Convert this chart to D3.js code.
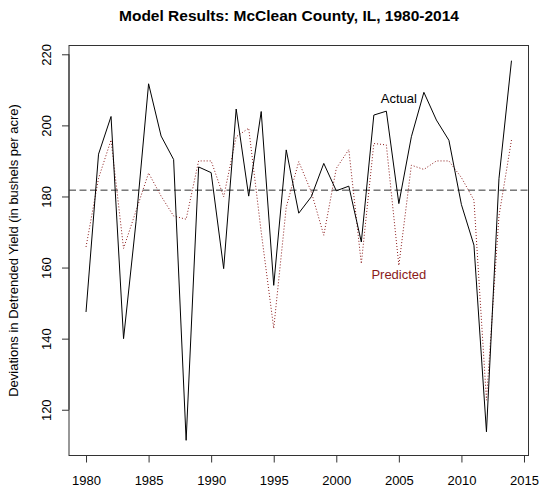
<!DOCTYPE html>
<html>
<head>
<meta charset="utf-8">
<script src="https://cdn.jsdelivr.net/npm/d3@7"></script>
<style>
  body { margin: 0; background: #fff; }
  text { font-family: "Liberation Sans", Arial, sans-serif; }
</style>
</head>
<body>
<div id="chart"></div>
<script>
// years on the x axis
var years = [1980, 1981, 1982, 1983, 1984, 1985, 1986, 1987, 1988, 1989,
             1990, 1991, 1992, 1993, 1994, 1995, 1996, 1997, 1998, 1999,
             2000, 2001, 2002, 2003, 2004, 2005, 2006, 2007, 2008, 2009,
             2010, 2011, 2012, 2013, 2014];

// actual detrended yields (bushels per acre)
var actual = [147.5, 191.9, 202.5, 140.0, 173.0, 211.7, 197.0, 190.4, 111.4, 188.3,
              186.7, 159.7, 204.6, 180.1, 203.9, 155.0, 193.1, 175.3, 179.9, 189.3,
              181.6, 182.9, 167.2, 202.9, 204.0, 178.0, 196.8, 209.3, 201.5, 195.8,
              177.7, 166.3, 113.8, 185.0, 218.2];

// model predictions
var predicted = [165.8, 185.1, 195.9, 165.4, 176.0, 186.6, 180.1, 174.5, 173.6, 190.0,
                 190.0, 179.9, 196.8, 199.2, 170.0, 142.9, 177.0, 189.8, 181.3, 169.1,
                 187.9, 193.2, 161.1, 194.9, 194.5, 160.6, 188.8, 187.6, 190.0, 190.0,
                 185.3, 179.0, 122.7, 174.5, 195.9];

var xTicks = [1980, 1985, 1990, 1995, 2000, 2005, 2010, 2015];
var yTicks = [120, 140, 160, 180, 200, 220];

// where the two labels sit (data units)
var labelActual = { year: 2005, value: 207.5, text: "Actual" };
var labelPredicted = { year: 2005, value: 158, text: "Predicted" };

var svgWidth = 540;
var svgHeight = 489;
var box = { left: 69, right: 528.5, top: 45.5, bottom: 455.5 };

var svg = d3.select("#chart")
  .append("svg")
  .attr("width", svgWidth)
  .attr("height", svgHeight);

// R style: pad the data range by 4% on each side
var xExt = d3.extent(years);
var xPad = (xExt[1] - xExt[0]) * 0.04;
var allValues = actual.concat(predicted);
var yExt = d3.extent(allValues);
var yPad = (yExt[1] - yExt[0]) * 0.04;

var xScale = d3.scaleLinear()
  .domain([xExt[0] - xPad, xExt[1] + xPad])
  .range([box.left, box.right]);

var yScale = d3.scaleLinear()
  .domain([yExt[0] - yPad, yExt[1] + yPad])
  .range([box.bottom, box.top]);

// axes
var bottomAxis = d3.axisBottom(xScale)
  .tickValues(xTicks)
  .tickFormat(d3.format("d"))
  .tickSize(7);

var leftAxis = d3.axisLeft(yScale)
  .tickValues(yTicks)
  .tickSize(7);

var xAxisG = svg.append("g")
  .attr("transform", `translate(0, ${box.bottom})`)
  .call(bottomAxis);
xAxisG.select(".domain")
  .attr("d", `M${xScale(1980)},0H${xScale(2015)}`);
xAxisG.selectAll("text")
  .attr("y", 29.5)
  .attr("dy", 0)
  .attr("font-size", 13)
  .attr("fill", "#000");

var yAxisG = svg.append("g")
  .attr("transform", `translate(${box.left}, 0)`)
  .call(leftAxis);
yAxisG.select(".domain")
  .attr("d", `M0,${yScale(120)}V${yScale(220)}`);
yAxisG.selectAll("text")
  .attr("transform", "rotate(-90)")
  .attr("x", 0)
  .attr("y", -18)
  .attr("dy", 0)
  .attr("text-anchor", "middle")
  .attr("font-size", 13)
  .attr("fill", "#000");

svg.selectAll(".domain, .tick line")
  .attr("stroke", "#333");

// plot box
svg.append("rect")
  .attr("x", box.left)
  .attr("y", box.top)
  .attr("width", box.right - box.left)
  .attr("height", box.bottom - box.top)
  .attr("fill", "none")
  .attr("stroke", "#333")
  .attr("stroke-width", 1);

// mean line
svg.append("line")
  .attr("x1", box.left)
  .attr("x2", box.right)
  .attr("y1", yScale(d3.mean(actual)))
  .attr("y2", yScale(d3.mean(actual)))
  .attr("stroke", "#333")
  .attr("stroke-width", 1)
  .attr("stroke-dasharray", "7,3.5");

var line = d3.line()
  .x((d, i) => xScale(years[i]))
  .y(d => yScale(d));

// predicted (dotted, dark red)
svg.append("path")
  .datum(predicted)
  .attr("d", line)
  .attr("fill", "none")
  .attr("stroke", "#8B1A1A")
  .attr("stroke-width", 1)
  .attr("stroke-dasharray", "1,2");

// actual (solid black)
svg.append("path")
  .datum(actual)
  .attr("d", line)
  .attr("fill", "none")
  .attr("stroke", "#000")
  .attr("stroke-width", 1);

// labels
svg.append("text")
  .attr("x", xScale(labelActual.year))
  .attr("y", yScale(labelActual.value))
  .attr("dy", "0.35em")
  .attr("text-anchor", "middle")
  .attr("font-size", 13)
  .attr("fill", "#000")
  .text(labelActual.text);

svg.append("text")
  .attr("x", xScale(labelPredicted.year))
  .attr("y", yScale(labelPredicted.value))
  .attr("dy", "0.35em")
  .attr("text-anchor", "middle")
  .attr("font-size", 13)
  .attr("fill", "#8B1A1A")
  .text(labelPredicted.text);

// title
svg.append("text")
  .attr("x", 289)
  .attr("y", 20.5)
  .attr("text-anchor", "middle")
  .attr("font-size", 15.5)
  .attr("font-weight", "bold")
  .text("Model Results: McClean County, IL, 1980-2014");

// y axis label
svg.append("text")
  .attr("transform", "rotate(-90)")
  .attr("x", -(box.top + box.bottom) / 2)
  .attr("y", 18)
  .attr("text-anchor", "middle")
  .attr("font-size", 13)
  .text("Deviations in Detrended Yield (in bushels per acre)");
</script>
</body>
</html>
